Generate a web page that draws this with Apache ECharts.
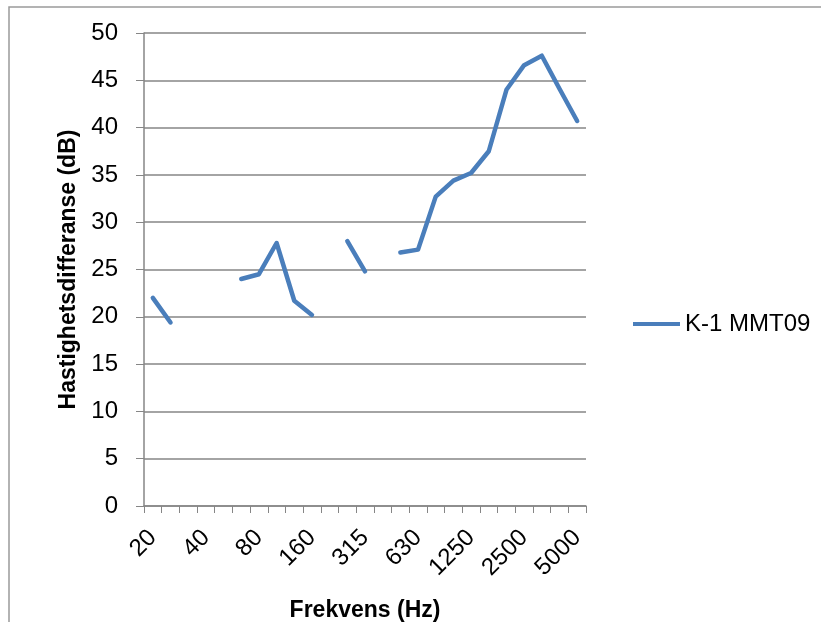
<!DOCTYPE html>
<html>
<head>
<meta charset="utf-8">
<script src="https://cdn.jsdelivr.net/npm/echarts@6/dist/echarts.min.js"></script>
<style>
  html, body { margin: 0; padding: 0; background: #fff; }
  #chart { width: 821px; height: 622px; }
</style>
</head>
<body>
<div id="chart"></div>
<script>
// Third-octave band centre frequencies (Hz)
const frequencies = ['20', '25', '31.5', '40', '50', '63', '80', '100', '125', '160',
  '200', '250', '315', '400', '500', '630', '800', '1000', '1250', '1600',
  '2000', '2500', '3150', '4000', '5000'];

// Velocity level difference per band (dB); null = no measurement
const velocityDifference = [22.0, 19.4, null, null, null, 24.0, 24.5, 27.8, 21.7, 20.2,
  null, 28.0, 24.8, null, 26.8, 27.1, 32.7, 34.4, 35.2, 37.5,
  44.0, 46.6, 47.6, 44.1, 40.7];

const seriesName = 'K-1 MMT09';
const yTicks = { min: 0, max: 50, interval: 5 };

const font = 'Liberation Sans';
const gray = '#868686';

const chart = echarts.init(document.getElementById('chart'), null, { renderer: 'canvas' });

chart.setOption({
  backgroundColor: '#ffffff',
  animation: false,
  graphic: [{
    type: 'rect',
    shape: { x: 9, y: 7, width: 830, height: 640 },
    style: { fill: 'none', stroke: '#9a9a9a', lineWidth: 1.5 },
    silent: true
  }],
  grid: {
    left: 144, right: 235, top: 33, bottom: 116,
    containLabel: false,
    outerBoundsMode: 'none'
  },
  legend: {
    data: [seriesName],
    left: 633,
    top: 312,
    icon: 'rect',
    itemWidth: 47,
    itemHeight: 4,
    itemGap: 0,
    textStyle: { fontFamily: font, fontSize: 24, color: '#000', padding: [0, 0, 0, 0] },
    padding: 0
  },
  xAxis: {
    type: 'category',
    data: frequencies,
    boundaryGap: true,
    name: 'Frekvens (Hz)',
    nameLocation: 'middle',
    nameGap: 93,
    nameTextStyle: { fontFamily: font, fontSize: 23, fontWeight: 'bold', color: '#000' },
    axisLine: { lineStyle: { color: gray, width: 1.5 } },
    axisTick: { show: true, length: 7, interval: 0, lineStyle: { color: gray, width: 1 } },
    axisLabel: {
      interval: 2,
      rotate: 45,
      margin: 28,
      fontFamily: font,
      fontSize: 24,
      color: '#000'
    },
    splitLine: { show: false }
  },
  yAxis: {
    type: 'value',
    min: yTicks.min,
    max: yTicks.max,
    interval: yTicks.interval,
    name: 'Hastighetsdifferanse (dB)',
    nameLocation: 'middle',
    nameGap: 62,
    nameTextStyle: { fontFamily: font, fontSize: 23, fontWeight: 'bold', color: '#000' },
    axisLine: { show: true, lineStyle: { color: gray, width: 1.5 } },
    axisTick: { show: true, length: 8, lineStyle: { color: gray, width: 1 } },
    axisLabel: { margin: 26, fontFamily: font, fontSize: 24, color: '#000' },
    splitLine: { show: true, lineStyle: { color: gray, width: 1.5 } }
  },
  series: [{
    name: seriesName,
    type: 'line',
    data: velocityDifference,
    connectNulls: false,
    showSymbol: false,
    symbol: 'none',
    color: '#4A7EBB',
    lineStyle: { color: '#4A7EBB', width: 4.5, cap: 'round', join: 'round' }
  }]
});
</script>
</body>
</html>
